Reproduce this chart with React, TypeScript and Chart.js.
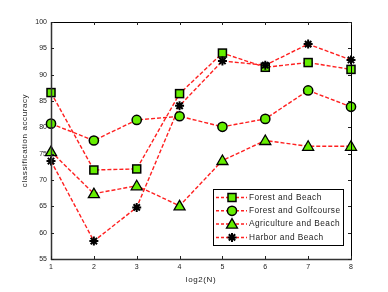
import React, { useEffect, useRef } from 'react';
import { Chart, registerables } from 'chart.js';
Chart.register(...registerables);

const xValues = [1, 2, 3, 4, 5, 6, 7, 8];
const forestBeach = [86.6, 71.9, 72.1, 86.4, 94.1, 91.4, 92.3, 91.0];
const forestGolf = [80.7, 77.5, 81.4, 82.1, 80.1, 81.6, 87.0, 83.9];
const agriBeach = [75.4, 67.4, 68.9, 65.1, 73.7, 77.5, 76.4, 76.4];
const harborBeach = [73.6, 58.4, 64.8, 84.1, 92.6, 91.8, 95.8, 92.8];
const seriesNames = ['Forest and Beach', 'Forest and Golfcourse', 'Agriculture and Beach', 'Harbor and Beach'];
const yTickValues = [55, 60, 65, 70, 75, 80, 85, 90, 95, 100];
const xTitle = 'log2(N)';
const yTitle = 'classification accuracy';

const GREEN = '#66ee00';
const RED = '#ff2020';
const FONT = 'Liberation Sans, Arial, sans-serif';

function drawMarker(ctx: CanvasRenderingContext2D, style: string, x: number, y: number) {
  ctx.save();
  ctx.setLineDash([]);
  if (style === 'rect') {
    ctx.fillStyle = GREEN;
    ctx.strokeStyle = '#000';
    ctx.lineWidth = 1.5;
    ctx.fillRect(x - 4, y - 4, 8, 8);
    ctx.strokeRect(x - 4, y - 4, 8, 8);
  } else if (style === 'circle') {
    ctx.fillStyle = GREEN;
    ctx.strokeStyle = '#000';
    ctx.lineWidth = 1.5;
    ctx.beginPath();
    ctx.arc(x, y, 4.6, 0, Math.PI * 2);
    ctx.fill();
    ctx.stroke();
  } else if (style === 'triangle') {
    ctx.fillStyle = GREEN;
    ctx.strokeStyle = '#000';
    ctx.lineWidth = 1.3;
    ctx.beginPath();
    ctx.moveTo(x, y - 5.5);
    ctx.lineTo(x + 5.5, y + 4);
    ctx.lineTo(x - 5.5, y + 4);
    ctx.closePath();
    ctx.fill();
    ctx.stroke();
  } else {
    ctx.strokeStyle = '#000';
    ctx.lineWidth = 2;
    const r = 4.5;
    ctx.beginPath();
    for (let i = 0; i < 4; i++) {
      const a = (i * Math.PI) / 4;
      ctx.moveTo(x - r * Math.cos(a), y - r * Math.sin(a));
      ctx.lineTo(x + r * Math.cos(a), y + r * Math.sin(a));
    }
    ctx.stroke();
    ctx.fillStyle = '#000';
    ctx.beginPath();
    ctx.arc(x, y, 2.2, 0, Math.PI * 2);
    ctx.fill();
  }
  ctx.restore();
}

const styles = ['rect', 'circle', 'triangle', 'star'];

const framePlugin = {
  id: 'framePlugin',
  afterDatasetsDraw(chart: any) {
    const ctx = chart.ctx as CanvasRenderingContext2D;
    chart.data.datasets.forEach((ds: any, i: number) => {
      const meta = chart.getDatasetMeta(i);
      meta.data.forEach((pt: any) => drawMarker(ctx, styles[i], pt.x, pt.y));
    });
  },
  afterDraw(chart: any) {
    const ctx = chart.ctx as CanvasRenderingContext2D;
    const { left, right, top, bottom } = chart.chartArea;
    const xs = chart.scales.x;
    const ys = chart.scales.y;
    ctx.save();
    ctx.strokeStyle = '#000';
    ctx.lineWidth = 1;
    ctx.setLineDash([]);
    ctx.strokeRect(left + 0.5, top + 0.5, right - left, bottom - top);
    ctx.strokeStyle = '#333';
    ctx.lineWidth = 1.5;
    ctx.beginPath();
    ctx.moveTo(left + 0.5, top);
    ctx.lineTo(left + 0.5, bottom + 1);
    ctx.moveTo(left, bottom + 0.5);
    ctx.lineTo(right + 1, bottom + 0.5);
    ctx.stroke();
    // inward ticks
    ctx.lineWidth = 1;
    ctx.strokeStyle = '#222';
    ctx.beginPath();
    xValues.forEach((v) => {
      const px = Math.round(xs.getPixelForValue(v)) + 0.5;
      ctx.moveTo(px, bottom);
      ctx.lineTo(px, bottom - 3);
      ctx.moveTo(px, top);
      ctx.lineTo(px, top + 3);
    });
    yTickValues.forEach((v) => {
      const py = Math.round(ys.getPixelForValue(v)) + 0.5;
      ctx.moveTo(left, py);
      ctx.lineTo(left + 3, py);
      ctx.moveTo(right, py);
      ctx.lineTo(right - 3, py);
    });
    ctx.stroke();

    // axis titles
    ctx.fillStyle = '#222';
    ctx.font = `8px ${FONT}`;
    (ctx as any).letterSpacing = '0.6px';
    ctx.textAlign = 'center';
    ctx.textBaseline = 'middle';
    ctx.fillText(xTitle, (left + right) / 2, 280);
    ctx.save();
    ctx.translate(25, (top + bottom) / 2);
    ctx.rotate(-Math.PI / 2);
    ctx.fillText(yTitle, 0, 0);
    ctx.restore();

    // legend
    const lx = 213, ly = 189, lw = 130, lh = 56;
    ctx.fillStyle = '#fff';
    ctx.fillRect(lx, ly, lw, lh);
    ctx.strokeStyle = '#000';
    ctx.lineWidth = 1;
    ctx.strokeRect(lx + 0.5, ly + 0.5, lw, lh);
    seriesNames.forEach((name, i) => {
      const y = ly + 8.5 + i * 13.3;
      ctx.strokeStyle = RED;
      ctx.lineWidth = 1.5;
      ctx.setLineDash([3, 2]);
      ctx.beginPath();
      ctx.moveTo(lx + 3, y);
      ctx.lineTo(lx + 34, y);
      ctx.stroke();
      ctx.setLineDash([]);
      drawMarker(ctx, styles[i], lx + 19, y);
      ctx.fillStyle = '#222';
      ctx.font = `8.3px ${FONT}`;
      (ctx as any).letterSpacing = '0.45px';
      ctx.textAlign = 'left';
      ctx.textBaseline = 'middle';
      ctx.fillText(name, lx + 36, y);
    });
    ctx.restore();
  },
};

export default function App() {
  const ref = useRef<HTMLCanvasElement>(null);
  useEffect(() => {
    document.body.style.margin = '0';
    const mk = (label: string, data: number[]) => ({
      label,
      data: data.map((y, i) => ({ x: xValues[i], y })),
      borderColor: RED,
      borderWidth: 1.4,
      borderDash: [4, 2],
      pointRadius: 0,
      fill: false,
      tension: 0,
    });
    const chart = new Chart(ref.current!, {
      type: 'line',
      data: {
        datasets: [
          mk(seriesNames[0], forestBeach),
          mk(seriesNames[1], forestGolf),
          mk(seriesNames[2], agriBeach),
          mk(seriesNames[3], harborBeach),
        ],
      },
      options: {
        animation: false,
        responsive: false,
        devicePixelRatio: 1,
        layout: { padding: { left: 0, top: 22, right: 37, bottom: 0 } },
        plugins: { legend: { display: false }, tooltip: { enabled: false } },
        scales: {
          x: {
            type: 'linear',
            min: 1,
            max: 8,
            afterFit: (s: any) => { s.height = 33; },
            grid: { display: false, drawTicks: false },
            border: { display: false },
            ticks: {
              stepSize: 1,
              padding: 4,
              color: '#222',
              font: { size: 7, family: FONT },
            },
          },
          y: {
            min: 55,
            max: 100,
            afterFit: (s: any) => { s.width = 51; },
            grid: { display: false, drawTicks: false },
            border: { display: false },
            ticks: {
              stepSize: 5,
              padding: 4,
              color: '#222',
              font: { size: 7, family: FONT },
            },
          },
        },
      },
      plugins: [framePlugin],
    });
    return () => chart.destroy();
  }, []);
  return (
    <div style={{ position: 'absolute', left: 0, top: 0, width: 388, height: 292 }}>
      <canvas ref={ref} width={388} height={292} style={{ width: 388, height: 292 }} />
    </div>
  );
}
